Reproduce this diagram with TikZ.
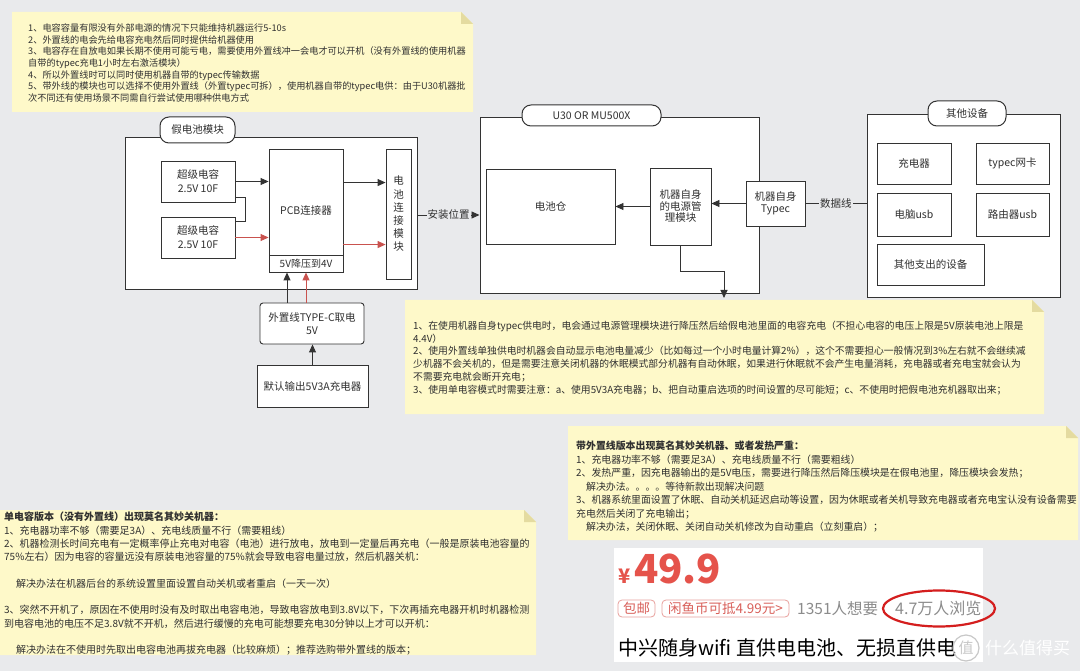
\documentclass[tikz,border=0pt]{standalone}
\usepackage{fontspec}
\setmainfont{Noto Sans CJK SC}
\usetikzlibrary{arrows.meta,calc}
\definecolor{bg}{HTML}{E9EAEC}
\definecolor{note}{HTML}{FEF9C9}
\definecolor{fold}{HTML}{E4DBA0}
\definecolor{lc}{HTML}{333333}
\definecolor{rl}{HTML}{C9524E}
\definecolor{tx}{HTML}{303030}
\definecolor{price}{HTML}{E5534B}
\definecolor{tagc}{HTML}{D9605A}
\definecolor{tagb}{HTML}{E8A09C}
\definecolor{gr}{HTML}{8C8C8C}
\definecolor{oval}{HTML}{D41E1E}
\definecolor{wm}{HTML}{C8C8C8}
\newcommand{\fs}[2]{\fontsize{#1}{#2}\selectfont}
\newcommand{\notebg}[4]{%
  \fill[note] (#1,#2) -- (#3-12,#2) -- (#3,#2+12) -- (#3,#4) -- (#1,#4) -- cycle;
  \fill[fold] (#3-12,#2) -- (#3-12,#2+12) -- (#3,#2+12) -- cycle;}
\begin{document}
\begin{tikzpicture}[x=1pt,y=-1pt,
  box/.style={draw=lc, fill=white, line width=0.9pt, inner sep=0pt, align=center, font=\fs{10.5}{14}, text=tx},
  cont/.style={draw=lc, fill=white, line width=1pt, inner sep=0pt},
  tabbox/.style={draw=lc, fill=white, line width=1pt, rounded corners=9pt, inner sep=0pt, font=\fs{10.5}{12}, text=tx},
  ln/.style={draw=lc, line width=0.9pt},
  arr/.style={ln, -{Triangle[length=8pt,width=7pt]}},
  rarr/.style={draw=rl, line width=0.9pt, -{Triangle[length=8pt,width=7pt]}},
  lbl/.style={fill=bg, inner sep=1pt, font=\fs{10.5}{12}, text=tx},
  notetext/.style={anchor=north west, inner sep=0pt, align=left, text=tx},
  tagbox/.style={draw=tagb, line width=0.8pt, rounded corners=4pt, text=tagc, inner sep=0pt, font=\fs{13.5}{14}},
]
\fill[bg] (0,0) rectangle (1080,671);
\useasboundingbox (0,0) rectangle (1080,671);

% ---------- notes ----------
\notebg{12}{12}{473}{112}
\notebg{405}{300}{1044}{414}
\notebg{568}{426}{1078}{540}
\notebg{0}{510}{536}{655}

\node[notetext, font=\fs{9.2}{11.7}] (n1) at (28,23.5) {%
1、电容容量有限没有外部电源的情况下只能维持机器运行5-10s\\
2、外置线的电会先给电容充电然后同时提供给机器使用\\
3、电容存在自放电如果长期不使用可能亏电，需要使用外置线冲一会电才可以开机（没有外置线的使用机器\\
自带的typec充电1小时左右激活模块）\\
4、所以外置线时可以同时使用机器自带的typec传输数据\\
5、带外线的模块也可以选择不使用外置线（外置typec可拆），使用机器自带的typec电供：由于U30机器批\\
次不同还有使用场景不同需自行尝试使用哪种供电方式};

\node[notetext, font=\fs{9.8}{12.7}] (n2) at (413,321) {%
1、在使用机器自身typec供电时，电会通过电源管理模块进行降压然后给假电池里面的电容充电（不担心电容的电压上限是5V原装电池上限是\\
4.4V）\\
2、使用外置线单独供电时机器会自动显示电池电量减少（比如每过一个小时电量计算2\%），这个不需要担心一般情况到3\%左右就不会继续减\\
少机器不会关机的，但是需要注意关闭机器的休眠模式部分机器有自动休眠，如果进行休眠就不会产生电量消耗，充电器或者充电宝就会认为\\
不需要充电就会断开充电；\\
3、使用单电容模式时需要注意：a、使用5V3A充电器；b、把自动重启选项的时间设置的尽可能短；c、不使用时把假电池充机器取出来；};

\node[notetext, font=\fs{9.9}{13.5}] (n3) at (576,441) {%
{\bfseries 带外置线版本出现莫名其妙关机器、或者发热严重：}\\
1、充电器功率不够（需要足3A）、充电线质量不行（需要粗线）\\
2、发热严重，因充电器输出的是5V电压，需要进行降压然后降压模块是在假电池里，降压模块会发热；\\
\hspace*{1em}解决办法。。。。等待新款出现解决问题\\
3、机器系统里面设置了休眠、自动关机延迟启动等设置，因为休眠或者关机导致充电器或者充电宝认没有设备需要\\
充电然后关闭了充电输出；\\
\hspace*{1em}解决办法，关闭休眠、关闭自动关机修改为自动重启（立刻重启）；};

\node[notetext, font=\fs{10}{13.3}] (n4) at (4,512) {%
{\bfseries 单电容版本（没有外置线）出现莫名其妙关机器：}\\
1、充电器功率不够（需要足3A）、充电线质量不行（需要粗线）\\
2、机器检测长时间充电有一定概率停止充电对电容（电池）进行放电，放电到一定量后再充电（一般是原装电池容量的\\
75\%左右）因为电容的容量远没有原装电池容量的75\%就会导致电容电量过放，然后机器关机：\\[13.3pt]
\hspace*{1.2em}解决办法在机器后台的系统设置里面设置自动关机或者重启（一天一次）\\[13.3pt]
3、突然不开机了，原因在不使用时没有及时取出电容电池，导致电容放电到3.8V以下，下次再插充电器开机时机器检测\\
到电容电池的电压不足3.8V就不开机，然后进行缓慢的充电可能想要充电30分钟以上才可以开机：\\[13.3pt]
\hspace*{1.2em}解决办法在不使用时先取出电容电池再拔充电器（比较麻烦）；推荐选购带外置线的版本；};

% ---------- fake battery module ----------
\node[cont, minimum width=292pt, minimum height=152pt] (fakecont) at (271,214) {};
\node[tabbox, minimum width=75pt, minimum height=26pt] (faketab) at (197.5,130) {假电池模块};
\node[box, minimum width=74pt, minimum height=41pt] (cap1) at (198,181.5) {超级电容\\2.5V 10F};
\node[box, minimum width=74pt, minimum height=41pt] (cap2) at (198,237.5) {超级电容\\2.5V 10F};
\node[box, minimum width=74pt, minimum height=123pt] (pcb) at (306,210.5) {PCB连接器};
\node[box, minimum width=74pt, minimum height=17pt, font=\fs{10}{12}] (buck) at (306,263.5) {5V降压到4V};
\node[box, minimum width=25pt, minimum height=130pt, font=\fs{10.5}{13.2}] (batconn) at (398.5,214) {电\\池\\连\\接\\模\\块};
\node[box, rounded corners=3pt, minimum width=104pt, minimum height=41pt, font=\fs{10.5}{13}] (ext) at (312,323.5) {外置线TYPE-C取电\\5V};
\node[box, minimum width=111pt, minimum height=42pt] (chg) at (312.5,386) {默认输出5V3A充电器};

\draw[arr] (cap1.east) -- (cap1.east -| pcb.west);
\draw[rarr] (cap2.east) -- (cap2.east -| pcb.west);
\draw[ln] ($(cap1.south east)+(0,-5)$) -- ++(10,0) |- ($(cap2.north east)+(0,5)$);
\coordinate (pa) at ($(pcb.north east)+(0,34)$);
\draw[arr] (pa) -- (pa -| batconn.west);
\coordinate (pb) at ($(pcb.north east)+(0,96)$);
\draw[rarr] (pb) -- (pb -| batconn.west);
\coordinate (ea) at ($(ext.north)+(-25,0)$);
\draw[arr] (ea) -- (ea |- buck.south);
\coordinate (eb) at ($(ext.north)+(-6,0)$);
\draw[rarr] (eb) -- (eb |- buck.south);
\draw[arr] (chg.north) -- (chg.north |- ext.south);

% ---------- U30 ----------
\node[cont, minimum width=279pt, minimum height=176pt] (u30) at (619.5,206) {};
\node[tabbox, minimum width=139pt, minimum height=21pt] (u30tab) at (591.5,115.5) {U30 OR MU500X};
\node[box, minimum width=129pt, minimum height=75pt] (cang) at (550.5,206.5) {电池仓};
\node[box, minimum width=61pt, minimum height=77pt, font=\fs{10.5}{11.5}] (pm) at (680.5,206.5) {机器自身\\的电源管\\理模块};
\node[box, minimum width=59pt, minimum height=45pt, font=\fs{10.5}{12.5}] (tc) at (775.5,203.5) {机器自身\\Typec};

\draw[arr] (tc.west) -- (tc.west -| pm.east);
\draw[arr] (pm.west) -- (pm.west -| cang.east);
\coordinate (pmout) at (724,298);
\draw[arr] (pm.south) -- ++(0,26) -| (pmout);

\coordinate (ins) at ($(fakecont.east)+(0,1)$);
\draw[arr] (ins) -- (ins -| u30.west) node[lbl, midway] {安装位置};

% ---------- other devices ----------
\node[cont, minimum width=193pt, minimum height=183pt] (oth) at (963.5,206.5) {};
\node[tabbox, minimum width=78pt, minimum height=25pt] (othtab) at (967,113.5) {其他设备};
\node[box, minimum width=74pt, minimum height=41pt] (d1) at (914,163.5) {充电器};
\node[box, minimum width=73pt, minimum height=41pt] (d2) at (1012.5,163.5) {typec网卡};
\node[box, minimum width=74pt, minimum height=43pt] (d3) at (914,214.5) {电脑usb};
\node[box, minimum width=73pt, minimum height=43pt] (d4) at (1012.5,214.5) {路由器usb};
\node[box, minimum width=107pt, minimum height=41pt] (d5) at (930.5,264.5) {其他支出的设备};

\draw[ln] (tc.east) -- (tc.east -| oth.west) node[lbl, midway] {数据线};

% ---------- product card ----------
\fill[white] (614,548) rectangle (983,662);
\node[anchor=base west, inner sep=0pt, text=price, font=\fs{20}{20}\bfseries] (yen) at (618,583) {¥};
\node[anchor=base west, inner sep=0pt, text=price, font=\fs{40}{40}\bfseries] (price) at (634,583) {49.9};
\node[tagbox, minimum width=37pt, minimum height=17pt] (t1) at (636.5,608.5) {包邮};
\node[tagbox, minimum width=127pt, minimum height=17pt] (t2) at (725.5,608.5) {闲鱼币可抵4.99元>};
\node[anchor=west, inner sep=0pt, text=gr, font=\fs{15.5}{16}] (want) at (797,608.5) {1351人想要};
\node[anchor=west, inner sep=0pt, text=gr, font=\fs{16}{16}] (views) at (895,608.5) {4.7万人浏览};
\draw[oval, line width=2.2pt] (939,608.5) ellipse [x radius=56pt, y radius=18pt];
\node[anchor=west, inner sep=0pt, text=black, font=\fs{20}{20}] (title) at (618,648) {中兴随身wifi 直供电电池、无损直供电};
\draw[wm, line width=1.2pt] (966,648) circle [radius=13pt];
\node[text=wm, inner sep=0pt, font=\fs{15}{15}] (wm1) at (966,648) {值};
\node[anchor=west, inner sep=0pt, text=white, font=\fs{17}{17}] (wm2) at (985,648) {什么值得买};
\end{tikzpicture}
\end{document}
